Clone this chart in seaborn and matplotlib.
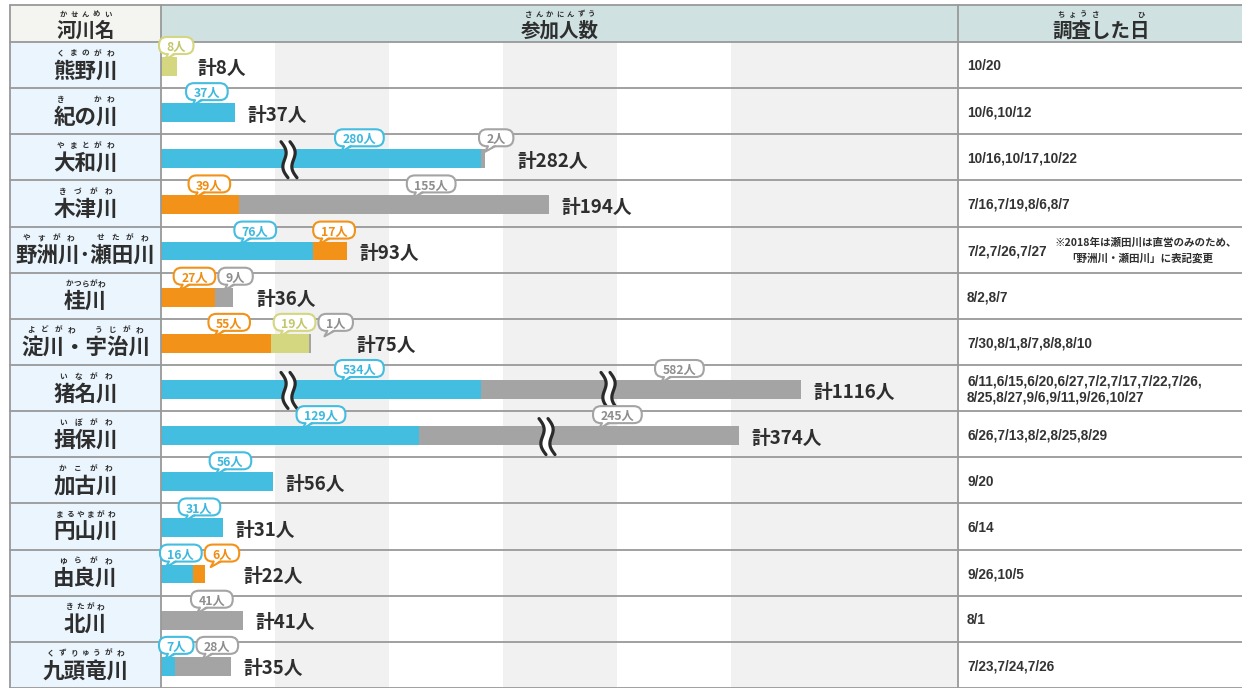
import matplotlib
matplotlib.use("Agg")
import matplotlib.pyplot as plt
import seaborn as sns
import numpy as np
import pandas as pd
from matplotlib.patches import Rectangle, FancyBboxPatch, Polygon

# ---- values ----
rivers = ["熊野川", "紀の川", "大和川", "木津川", "野洲川･瀬田川", "桂川", "淀川・宇治川",
          "猪名川", "揖保川", "加古川", "円山川", "由良川", "北川", "九頭竜川"]
readings = ["くまのがわ", "き　　かわ", "やまとがわ", "きづがわ", "やすがわ　せたがわ", "かつらがわ",
            "よどがわ　うじがわ", "いながわ", "いぼがわ", "かこがわ", "まるやまがわ", "ゆらがわ",
            "きたがわ", "くずりゅうがわ"]
blue = [0, 37, 280, 0, 76, 0, 0, 534, 129, 56, 31, 16, 0, 7]
orange = [0, 0, 0, 39, 17, 27, 55, 0, 0, 0, 0, 6, 0, 0]
lime = [8, 0, 0, 0, 0, 0, 19, 0, 0, 0, 0, 0, 0, 0]
grey = [0, 0, 2, 155, 0, 9, 1, 582, 245, 0, 0, 0, 41, 28]
dates = ["10/20", "10/6,10/12", "10/16,10/17,10/22", "7/16,7/19,8/6,8/7", "7/2,7/26,7/27",
         "8/2,8/7", "7/30,8/1,8/7,8/8,8/10",
         "6/11,6/15,6/20,6/27,7/2,7/17,7/22,7/26,\n8/25,8/27,9/6,9/11,9/26,10/27",
         "6/26,7/13,8/2,8/25,8/29", "9/20", "6/14", "9/26,10/5", "8/1", "7/23,7/24,7/26"]
note = ["※2018年は瀬田川は直営のみのため、", "「野洲川・瀬田川」に表記変更"]
headers = ["河川名", "参加人数", "調査した日"]
header_readings = ["かせんめい", "さんかにんずう", "ちょうさ　　　ひ"]

BREAK_CAP = 160  # longer segments are drawn shortened, with a break mark

kinds = ["blue", "orange", "lime", "grey"]
counts = {"blue": blue, "orange": orange, "lime": lime, "grey": grey}
bar_colors = {"blue": "#43bde0", "orange": "#f29218", "lime": "#d4d680", "grey": "#a4a4a4"}
txt_colors = {"blue": "#3bb8de", "orange": "#ef8d12", "lime": "#c3c76a", "grey": "#8e8e8e"}

# ---- layout (pixels) ----
W, H = 1242, 688
X_LEFT, X_BAR, X_DATE = 10, 161, 958
Y_TOP, Y_ROWS = 5, 42
ROW_H = (H - Y_ROWS) / len(rivers)
INK = "#2e2e2e"

sns.set_style("white")
plt.rcParams["font.family"] = ["Noto Sans CJK JP", "DejaVu Sans"]

fig = plt.figure(figsize=(W / 100, H / 100), dpi=100)

# base layer: cell fills and background bands
base = fig.add_axes([0, 0, 1, 1])
base.set_xlim(0, W)
base.set_ylim(H, 0)
base.set_axis_off()
base.add_patch(Rectangle((X_LEFT, Y_TOP), X_BAR - X_LEFT, Y_ROWS - Y_TOP, fc="#f4f4f1", ec="none"))
base.add_patch(Rectangle((X_BAR, Y_TOP), W - X_BAR, Y_ROWS - Y_TOP, fc="#cfe1e1", ec="none"))
base.add_patch(Rectangle((X_LEFT, Y_ROWS), X_BAR - X_LEFT, H - Y_ROWS, fc="#ebf5fd", ec="none"))
for bx0, bx1 in [(275, 389), (503, 617), (731, X_DATE)]:
    base.add_patch(Rectangle((bx0, Y_ROWS), bx1 - bx0, H - Y_ROWS, fc="#f1f1f1", ec="none"))

# bar layer
ax = fig.add_axes([X_BAR / W, 0, (X_DATE - X_BAR) / W, (H - Y_ROWS) / H])
ax.set_zorder(1)

rows = []
for i, r in enumerate(rivers):
    start, level = 0, 0
    for k in kinds:
        v = counts[k][i]
        if v == 0:
            continue
        shown = min(v, BREAK_CAP)
        rows.append(dict(river=r, row=i, kind=k, value=v, level=level,
                         start=start, end=start + shown, broken=v > BREAK_CAP))
        start += shown
        level += 1
seg = pd.DataFrame(rows)

# stacked look: draw cumulative ends from the outermost segment inwards
for level in sorted(seg["level"].unique(), reverse=True):
    sns.barplot(data=seg[seg["level"] == level], x="end", y="river", hue="kind",
                order=rivers, hue_order=kinds, palette=bar_colors, dodge=False,
                orient="y", width=0.41, saturation=1, errorbar=None, linewidth=0,
                legend=False, ax=ax)
ax.set_xlim(0, (X_DATE - X_BAR) / 2)
ax.set_ylim(len(rivers) - 0.53, -0.53)
ax.set_axis_off()

# top layer: grid lines, text, callouts
top = fig.add_axes([0, 0, 1, 1])
top.set_zorder(2)
top.set_xlim(0, W)
top.set_ylim(H, 0)
top.set_axis_off()
top.patch.set_visible(False)

line_kw = dict(color="#999999", lw=1.3)
top.plot([X_LEFT, W], [Y_TOP, Y_TOP], **line_kw)
for k in range(len(rivers) + 1):
    y = Y_ROWS + k * ROW_H
    top.plot([X_LEFT, W], [y, y], **line_kw)
for x in [X_LEFT, X_BAR, X_DATE]:
    top.plot([x, x], [Y_TOP, H], **line_kw)

renderer = fig.canvas.get_renderer()


def to_px(x, y):
    dx, dy = ax.transData.transform((x, y))
    return dx, H - dy


def spread(s, cx, cy, span, size):
    n = len(s)
    for j, ch in enumerate(s):
        if not ch.strip():
            continue
        top.text(cx - span / 2 + span * (j + 0.5) / n, cy, ch, ha="center", va="center",
                 fontsize=size, fontweight="bold", color=INK)


# header
header_x = [(X_LEFT + X_BAR) / 2, 560, 1101]
for hx, h, hr in zip(header_x, headers, header_readings):
    t = top.text(hx, 31, h, ha="center", va="center", fontsize=14, fontweight="bold", color=INK)
    span = t.get_window_extent(renderer).width
    spread(hr, hx, 14, span * 0.95, 5.3)

# river names and survey dates
for i, (r, rd) in enumerate(zip(rivers, readings)):
    row_top = Y_ROWS + i * ROW_H
    cx = (X_LEFT + X_BAR) / 2
    t = top.text(cx, row_top + 29, r, ha="center", va="center", fontsize=15.5,
                 fontweight="bold", color=INK)
    span = t.get_window_extent(renderer).width
    spread(rd, cx, row_top + 11, span * 0.95, 5.5)

    top.text(X_DATE + 9, row_top + 24.5, dates[i], ha="left", va="center",
             fontsize=9.8, fontweight="bold", color="#333333", linespacing=1.2,
             family=["Liberation Sans", "DejaVu Sans"])

# footnote on the 野洲川･瀬田川 row
row_top = Y_ROWS + 4 * ROW_H
top.text(1055, row_top + 16, note[0], ha="left", va="center", fontsize=7.6,
         fontweight="bold", color=INK)
top.text(1066, row_top + 32, note[1], ha="left", va="center", fontsize=7.6,
         fontweight="bold", color=INK)


def break_mark(bx, by):
    tt = np.linspace(-1, 1, 60)
    ys = by + 1 + tt * 18
    curves = []
    for off in (-4.5, 4.5):
        xs = bx + off + tt * 3.5 - 3.2 * np.sin(np.pi * tt)
        curves.append(xs)
    poly = np.column_stack([np.r_[curves[0], curves[1][::-1]], np.r_[ys, ys[::-1]]])
    top.add_patch(Polygon(poly, closed=True, fc="white", ec="none", zorder=3))
    for xs in curves:
        top.plot(xs, ys, color="#2a2a2a", lw=2.3, solid_capstyle="round", zorder=4)


BUBBLE_H = 17
for i, r in enumerate(rivers):
    row_top = Y_ROWS + i * ROW_H
    sub = seg[seg["row"] == i]
    prev_right = -1e9
    bar_end = X_BAR
    for _, s in sub.iterrows():
        sx, by = to_px(s["start"], i)
        ex, _ = to_px(s["end"], i)
        bar_end = ex
        if s["broken"]:
            break_mark(sx + 0.4 * (ex - sx), by)
        col = bar_colors[s["kind"]]
        t = top.text(0, 0, f"{s['value']}人", ha="center", va="center_baseline", fontsize=8.8,
                     fontweight="bold", color=txt_colors[s["kind"]], zorder=7)
        w = t.get_window_extent(renderer).width + 15
        cx = max(sx + 0.62 * (ex - sx), sx + w / 2 - 2, prev_right + 3 + w / 2)
        cy = row_top + 3.5
        t.set_position((cx, cy + 0.5))
        xl, yt = cx - w / 2, cy - BUBBLE_H / 2
        yb = yt + BUBBLE_H
        top.add_patch(FancyBboxPatch((xl, yt), w, BUBBLE_H,
                                     boxstyle=f"round,pad=0,rounding_size={BUBBLE_H / 2 - 0.5}",
                                     fc="white", ec=col, lw=1.5, zorder=5))
        tail = [(xl + 9, yb), (xl + 6, yb + 5.5), (xl + 16, yb)]
        top.add_patch(Polygon([(xl + 9.5, yb - 1.8), (xl + 6, yb + 5.5), (xl + 15.5, yb - 1.8)],
                              closed=True, fc="white", ec="none", zorder=6))
        top.plot([p[0] for p in tail], [p[1] for p in tail], color=col, lw=1.5, zorder=6)
        prev_right = cx + w / 2

    total = int(sub["value"].sum())
    lx = max(bar_end + 12, prev_right + 4)
    top.text(lx, row_top + 25, f"計{total}人", ha="left", va="center_baseline", fontsize=13.5,
             fontweight="bold", color=INK)

fig.savefig("out.png", dpi=100)
